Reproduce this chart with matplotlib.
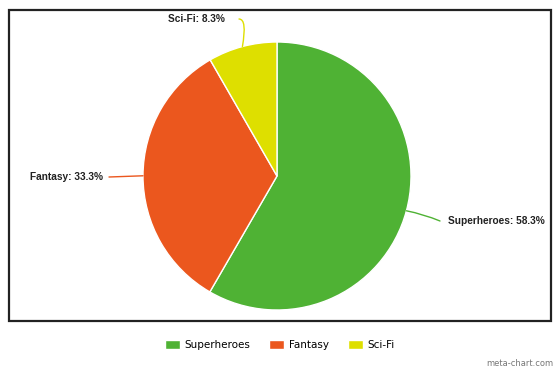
import numpy as np
import matplotlib
matplotlib.use("Agg")
import matplotlib.pyplot as plt
from matplotlib.patches import Rectangle

categorias = ["Superheroes", "Fantasy", "Sci-Fi"]
valores = [58.3, 33.3, 8.3]
colores = ["#4fb234", "#eb571e", "#dedf00"]

W, H = 560, 373
fig = plt.figure(figsize=(W / 100, H / 100), dpi=100)
ax = fig.add_axes([0, 0, 1, 1])

# pixel coords, y up
cx, cy, r = 277, H - 176, 134
wedges, _ = ax.pie(valores, colors=colores, startangle=90, counterclock=False,
                   center=(cx, cy), radius=r, frame=True,
                   wedgeprops=dict(edgecolor="white", linewidth=1))
ax.set_xlim(0, W)
ax.set_ylim(0, H)
ax.set_aspect("equal")
ax.axis("off")

# etiquetas con línea guía
offsets = {
    "Superheroes": ((448, H - 221), "left", "arc3,rad=0.05"),
    "Fantasy": ((103, H - 177), "right", "arc3,rad=0"),
    "Sci-Fi": ((225, H - 19), "right", "angle3,angleA=0,angleB=80"),
}
for w, cat, val in zip(wedges, categorias, valores):
    ang = np.deg2rad((w.theta1 + w.theta2) / 2)
    px, py = cx + r * np.cos(ang), cy + r * np.sin(ang)
    (tx, ty), ha, cs = offsets[cat]
    lx = tx - 8 if ha == "left" else tx + 6
    if cat == "Sci-Fi":
        lx = tx + 14
    ax.annotate("", xy=(px, py), xytext=(lx, ty),
                arrowprops=dict(arrowstyle="-", color=w.get_facecolor(), lw=1,
                                connectionstyle=cs, shrinkA=0, shrinkB=0))
    ax.text(tx, ty, f"{cat}: {val}%", ha=ha, va="center", fontsize=7.3,
            fontweight="bold", family="Liberation Sans", color="#222222")

# marco
fig.patches.append(Rectangle((9 / W, 1 - 321 / H), 542 / W, 311 / H, transform=fig.transFigure,
                             fill=False, edgecolor="#222222", linewidth=1.6))

fig.legend(wedges, categorias, loc="center", bbox_to_anchor=(0.5, 1 - 345 / H), ncol=3,
           frameon=False, prop=dict(family="DejaVu Sans", size=7.5),
           handlelength=1.4, handleheight=1.0, handletextpad=0.5, columnspacing=1.8)

fig.text(553 / W, 1 - 364 / H, "meta-chart.com", ha="right", va="center", fontsize=6,
         color="#777777")

fig.savefig("out.png", dpi=100)
